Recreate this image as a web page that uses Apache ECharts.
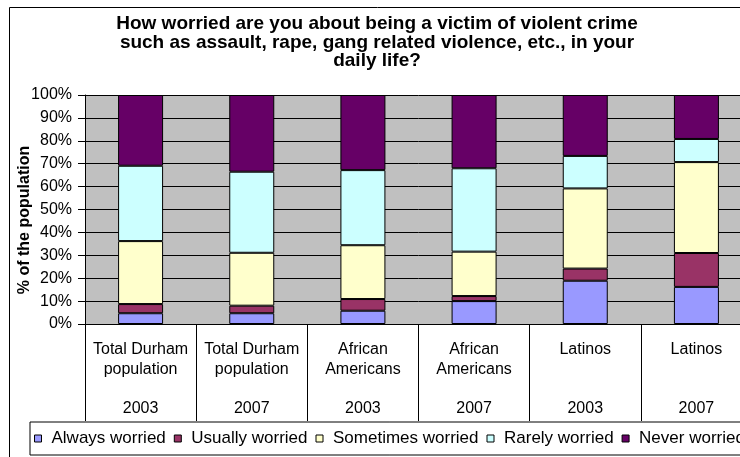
<!DOCTYPE html>
<html>
<head>
<meta charset="utf-8">
<script src="https://cdn.jsdelivr.net/npm/echarts@6/dist/echarts.min.js"></script>
<style>
  html, body { margin: 0; padding: 0; overflow: hidden; background: #fff; }
  #chart { width: 760px; height: 470px; }
</style>
</head>
<body>
<div id="chart"></div>
<script>
// Survey groups and years (one stacked column per group/year)
const groups = ['Total Durham\npopulation', 'Total Durham\npopulation', 'African\nAmericans', 'African\nAmericans', 'Latinos\n', 'Latinos\n'];
const years = ['2003', '2007', '2003', '2007', '2003', '2007'];

// Share of respondents (%) per answer
const alwaysWorried    = [4.7, 4.7, 5.8, 10.0, 18.9, 16.2];
const usuallyWorried   = [4.0, 3.3, 5.1, 2.2, 5.3, 14.8];
const sometimesWorried = [27.5, 23.1, 23.5, 19.4, 35.0, 39.7];
const rarelyWorried    = [32.9, 35.4, 32.8, 36.4, 14.2, 10.1];
const neverWorried     = [30.9, 33.5, 32.8, 32.0, 26.6, 19.2];

const seriesNames = ['Always worried', 'Usually worried', 'Sometimes worried', 'Rarely worried', 'Never worried'];
const seriesColors = ['#9999FF', '#993366', '#FFFFCC', '#CCFFFF', '#660066'];
const seriesData = [alwaysWorried, usuallyWorried, sometimesWorried, rarelyWorried, neverWorried];

const yTicks = [0, 10, 20, 30, 40, 50, 60, 70, 80, 90, 100];

const categories = groups.map((g, i) => g + '\n\n' + years[i]);
const FONT = '"Liberation Sans", Arial, sans-serif';

const chart = echarts.init(document.getElementById('chart'), null, { renderer: 'canvas' });

chart.setOption({
  animation: false,
  backgroundColor: '#ffffff',
  textStyle: { fontFamily: FONT, color: '#000' },
  title: {
    text: 'How worried are you about being a victim of violent crime\nsuch as assault, rape, gang related violence, etc., in your\ndaily life?',
    left: 377,
    top: 15,
    padding: 0,
    textAlign: 'center',
    textStyle: {
      fontFamily: FONT,
      fontWeight: 'bold',
      fontSize: 19,
      lineHeight: 18.5,
      color: '#000'
    }
  },
  graphic: [
    {
      type: 'rect',
      z: -10,
      shape: { x: 9.5, y: 7.5, width: 736, height: 460 },
      style: { fill: 'none', stroke: '#000', lineWidth: 1 }
    },
    {
      type: 'text',
      x: 24.5,
      y: 220,
      rotation: Math.PI / 2,
      style: {
        text: '% of the population',
        font: 'bold 16px ' + FONT,
        fill: '#000',
        align: 'center',
        verticalAlign: 'middle'
      }
    }
  ],
  legend: {
    data: seriesNames,
    left: 30,
    top: 422,
    padding: [8, 5, 8, 4],
    borderColor: '#000',
    borderWidth: 1,
    itemWidth: 7,
    itemHeight: 7,
    itemGap: 8,
    icon: 'rect',
    itemStyle: { borderColor: '#000', borderWidth: 1 },
    textStyle: { fontFamily: FONT, fontSize: 17, color: '#000', padding: [0, 0, 0, 5] }
  },
  grid: {
    left: 85,
    right: 8,
    top: 95,
    bottom: 146,
    show: true,
    backgroundColor: '#C0C0C0',
    borderWidth: 0
  },
  xAxis: {
    type: 'category',
    data: categories,
    axisLine: { show: true, lineStyle: { color: '#000', width: 1 } },
    axisTick: { show: true, interval: 0, length: 97, lineStyle: { color: '#000', width: 1 } },
    axisLabel: {
      interval: 0,
      margin: 16,
      fontFamily: FONT,
      fontSize: 16,
      lineHeight: 19.5,
      color: '#000',
      align: 'center'
    },
    splitLine: { show: false }
  },
  yAxis: {
    type: 'value',
    min: yTicks[0],
    max: yTicks[yTicks.length - 1],
    interval: yTicks[1] - yTicks[0],
    axisLine: { show: true, lineStyle: { color: '#000', width: 1 } },
    axisTick: { show: true, length: 7, lineStyle: { color: '#000', width: 1 } },
    axisLabel: {
      margin: 13,
      fontFamily: FONT,
      fontSize: 16,
      color: '#000',
      formatter: '{value}%'
    },
    splitLine: { show: true, lineStyle: { color: '#000', width: 1 } }
  },
  series: seriesNames.map((name, i) => ({
    name: name,
    type: 'bar',
    stack: 'total',
    barWidth: 45,
    data: seriesData[i],
    itemStyle: { color: seriesColors[i], borderColor: '#000', borderWidth: 1 }
  }))
});
</script>
</body>
</html>
